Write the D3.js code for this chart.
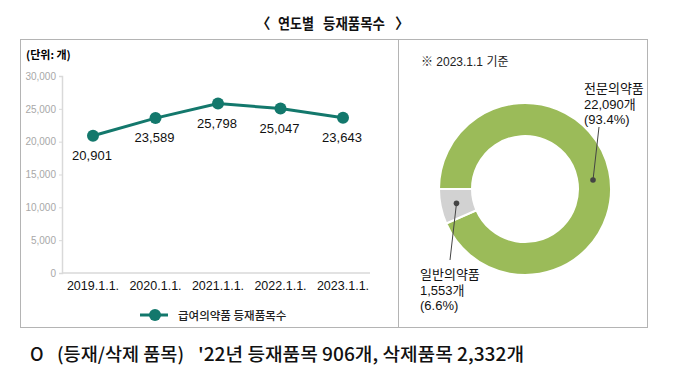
<!DOCTYPE html>
<html>
<head>
<meta charset="utf-8">
<script src="https://cdn.jsdelivr.net/npm/d3@7"></script>
<style>
  body { margin: 0; background: #fff; }
  svg text { font-family: "Liberation Sans", "Noto Sans CJK KR", sans-serif; }
  .kr { font-family: "Noto Sans CJK KR", sans-serif; }
</style>
</head>
<body>
<div id="chart"></div>
<script>
// line chart data
const years = ["2019.1.1.", "2020.1.1.", "2021.1.1.", "2022.1.1.", "2023.1.1."];
const counts = [20901, 23589, 25798, 25047, 23643];
const yTicks = [0, 5000, 10000, 15000, 20000, 25000, 30000];

// donut data
const donutLabels = ["전문의약품", "일반의약품"];
const donutCounts = [22090, 1553];
const donutPct = ["93.4%", "6.6%"];

const lineColor = "#13786c";
const donutColors = ["#9bbb59", "#d2d2d2"];

const W = 678, H = 373;
const svg = d3.select("#chart").append("svg")
    .attr("width", W)
    .attr("height", H);

// title, in pieces so the spacing matches
const titleParts = [
    {t: "〈", x: 256, len: null},
    {t: "연도별", x: 278, len: 36},
    {t: "등재품목수", x: 323, len: 62},
    {t: "〉", x: 395, len: null}
];
titleParts.forEach(p => {
    const t = svg.append("text")
        .attr("class", "kr")
        .attr("x", p.x)
        .attr("y", 29)
        .style("font-size", "14.5px")
        .style("font-weight", "bold")
        .attr("fill", "#111")
        .text(p.t);
    if (p.len) t.attr("textLength", p.len).attr("lengthAdjust", "spacingAndGlyphs");
});

// outer boxes
svg.append("rect")
    .attr("x", 20.5).attr("y", 39.5)
    .attr("width", 627).attr("height", 288)
    .attr("fill", "none")
    .attr("stroke", "#b4b4b4");
svg.append("line")
    .attr("x1", 398.5).attr("x2", 398.5)
    .attr("y1", 39.5).attr("y2", 327.5)
    .attr("stroke", "#b4b4b4");

// ---- line chart ----
svg.append("text")
    .attr("class", "kr")
    .attr("x", 26)
    .attr("y", 59)
    .style("font-size", "11px")
    .style("font-weight", "bold")
    .text("(단위: 개)");

const x = d3.scalePoint()
    .domain(years)
    .range([93, 343]);

const y = d3.scaleLinear()
    .domain([0, 30000])
    .range([273, 76]);

const yAxis = svg.append("g")
    .attr("transform", "translate(62,0)")
    .call(d3.axisLeft(y).tickValues(yTicks).tickSize(3).tickFormat(d3.format(",")));
yAxis.select(".domain").attr("stroke", "#d9d9d9").attr("stroke-width", 1.5);
yAxis.selectAll(".tick line").attr("stroke", "#d9d9d9");
yAxis.selectAll(".tick text")
    .attr("fill", "#a8a8a8")
    .style("font-size", "10px");

const xAxis = svg.append("g")
    .attr("transform", "translate(0,273)");
xAxis.append("line")
    .attr("x1", 62).attr("x2", 370)
    .attr("stroke", "#d9d9d9")
    .attr("stroke-width", 1.5);
xAxis.selectAll("text")
    .data(years)
    .enter()
    .append("text")
    .attr("x", d => x(d))
    .attr("y", 17)
    .attr("text-anchor", "middle")
    .style("font-size", "12.5px")
    .attr("fill", "#111")
    .text(d => d);

const pts = years.map((d, i) => ({year: d, value: counts[i]}));

svg.append("path")
    .datum(pts)
    .attr("fill", "none")
    .attr("stroke", lineColor)
    .attr("stroke-width", 3)
    .attr("d", d3.line().x(d => x(d.year)).y(d => y(d.value)));

svg.selectAll(".pt")
    .data(pts)
    .enter()
    .append("circle")
    .attr("class", "pt")
    .attr("cx", d => x(d.year))
    .attr("cy", d => y(d.value))
    .attr("r", 6)
    .attr("fill", lineColor);

svg.selectAll(".val")
    .data(pts)
    .enter()
    .append("text")
    .attr("class", "val")
    .attr("x", d => x(d.year) - 1)
    .attr("y", d => y(d.value) + 24)
    .attr("text-anchor", "middle")
    .style("font-size", "13px")
    .attr("fill", "#111")
    .text(d => d3.format(",")(d.value));

// legend
const lg = svg.append("g").attr("transform", "translate(140,315)");
lg.append("line")
    .attr("x1", 0).attr("x2", 28)
    .attr("stroke", lineColor)
    .attr("stroke-width", 3);
lg.append("circle")
    .attr("cx", 15).attr("r", 6)
    .attr("fill", lineColor);
lg.append("text")
    .attr("class", "kr")
    .attr("x", 38)
    .attr("y", 4.5)
    .style("font-size", "11.5px")
    .style("font-weight", "500")
    .attr("fill", "#222")
    .text("급여의약품 등재품목수");

// ---- donut ----
svg.append("text")
    .attr("x", 421)
    .attr("y", 66)
    .style("font-size", "12px")
    .attr("fill", "#222")
    .text("※ 2023.1.1 기준");

const cx = 525, cy = 189;
const pie = d3.pie()
    .sort(null)
    .startAngle(-Math.PI / 2)
    .endAngle(Math.PI * 1.5);
const arc = d3.arc().innerRadius(53).outerRadius(86);
const slices = pie(donutCounts);

const dg = svg.append("g").attr("transform", `translate(${cx},${cy})`);
dg.selectAll("path")
    .data(slices)
    .enter()
    .append("path")
    .attr("d", arc)
    .attr("fill", (d, i) => donutColors[i])
    .attr("stroke", "#fff")
    .attr("stroke-width", 2);

// leader dots and lines
const labelArc = d3.arc().innerRadius(70).outerRadius(70);
const dotPos = slices.map((s, i) => {
    // green dot sits on the right side of the ring
    if (i === 0) return [68, -9];
    return labelArc.centroid(s);
});
const lineEnd = [[74, -62], [-75, 71]];

dg.selectAll(".lead")
    .data(slices)
    .enter()
    .append("line")
    .attr("class", "lead")
    .attr("x1", (d, i) => dotPos[i][0])
    .attr("y1", (d, i) => dotPos[i][1])
    .attr("x2", (d, i) => lineEnd[i][0])
    .attr("y2", (d, i) => lineEnd[i][1])
    .attr("stroke", "#444")
    .attr("stroke-width", 1);
dg.selectAll(".dot")
    .data(slices)
    .enter()
    .append("circle")
    .attr("class", "dot")
    .attr("cx", (d, i) => dotPos[i][0])
    .attr("cy", (d, i) => dotPos[i][1])
    .attr("r", 2.8)
    .attr("fill", "#444");

const labelPos = [[584, 93], [420, 279]];
donutLabels.forEach((lab, i) => {
    const t = svg.append("text")
        .attr("x", labelPos[i][0])
        .attr("y", labelPos[i][1])
        .style("font-size", "13px")
        .attr("fill", "#111");
    const lines = [lab, d3.format(",")(donutCounts[i]) + "개", "(" + donutPct[i] + ")"];
    lines.forEach((l, j) => {
        t.append("tspan")
            .attr("x", labelPos[i][0])
            .attr("dy", j === 0 ? 0 : 15.5)
            .text(l);
    });
});

// bottom note, split so the gaps match
const noteParts = [
    {t: "O", x: 30, len: null},
    {t: "(등재/삭제 품목)", x: 57, len: 127},
    {t: "'22년 등재품목 906개, 삭제품목 2,332개", x: 198, len: 326}
];
noteParts.forEach(p => {
    const t = svg.append("text")
        .attr("class", "kr")
        .attr("x", p.x)
        .attr("y", 361)
        .style("font-size", "18px")
        .style("font-weight", "500")
        .attr("fill", "#111")
        .text(p.t);
    if (p.len) t.attr("textLength", p.len).attr("lengthAdjust", "spacingAndGlyphs");
});
</script>
</body>
</html>
